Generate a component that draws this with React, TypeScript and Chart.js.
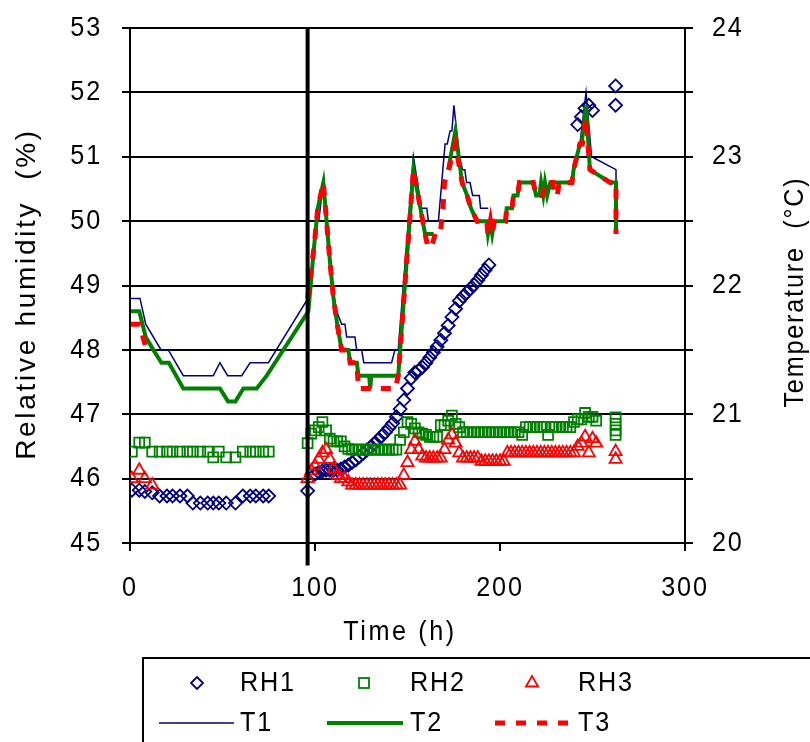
import React, { useEffect, useRef } from 'react';
import { Chart, registerables } from 'chart.js';

Chart.register(...registerables);

const FONT = "'Liberation Sans', Arial, sans-serif";
const FONT_SIZE = 28;
const TEXT_SCALE_X = 0.9;
const SPACING = '2px';
const NAVY = '#000080';
const GREEN = '#008000';
const RED = '#ff0000';

// Humidity readings, first run (h, %)
const hoursA = [1, 5, 8, 12, 16, 20, 23, 27, 31, 34, 38, 42, 45, 48, 52, 57, 61, 65, 68, 72, 75];
const rh1A = [45.82, 45.82, 45.8, 45.78, 45.73, 45.73, 45.73, 45.73, 45.73, 45.62, 45.62, 45.62, 45.62, 45.62, 45.62, 45.62, 45.73, 45.73, 45.73, 45.73, 45.73];
const rh2A = [46.42, 46.56, 46.56, 46.42, 46.42, 46.42, 46.42, 46.42, 46.42, 46.42, 46.42, 46.42, 46.33, 46.42, 46.33, 46.33, 46.42, 46.42, 46.42, 46.42, 46.42];
const rh3A = [46.0, 46.13, 46.0, 45.9, null, null, null, null, null, null, null, null, null, null, null, null, null, null, null, null, null];

// Humidity readings, second run (h, %)
const hoursB = [
  96, 98, 100, 102, 104, 106, 108, 110, 112, 114, 116, 118, 120, 122, 124, 126, 128, 130, 132, 134,
  136, 138, 140, 142, 144, 146, 148, 150, 152, 154, 156, 158, 160, 162, 164, 166, 168, 170, 172, 174,
  176, 178, 180, 182, 184, 186, 188, 190, 192, 194, 196, 198, 200, 202, 204, 206, 208, 210, 212, 214,
  216, 218, 220, 222, 224, 226, 228, 230, 232, 234, 236, 238, 240, 242, 244, 246, 248, 250, 252,
];
const rh1B = [
  45.81, null, 46.07, 46.1, 46.12, 46.13, 46.13, 46.13, 46.13, 46.15, 46.18, 46.21, 46.25, 46.29, 46.34, 46.39, 46.44, 46.49, 46.54, 46.6,
  46.66, 46.72, 46.79, 46.86, 46.96, 47.08, 47.22, 47.4, 47.56, 47.65, 47.68, 47.73, 47.8, 47.88, 47.96, 48.05, 48.15, 48.26, 48.38, 48.51,
  48.64, 48.76, 48.83, 48.89, 48.95, 49.01, 49.08, 49.16, 49.24, 49.32, null, null, null, null, null, null, null, null, null, null,
  null, null, null, null, null, null, null, null, null, null, null, null, null, 51.5, 51.62, 51.75, 51.8, 51.72, null,
];
const rh2B = [
  46.55, 46.7, 46.75, 46.8, 46.88, 46.75, 46.62, 46.58, 46.58, 46.58, 46.5, 46.46, 46.45, 46.45, 46.45, 46.45, 46.45, 46.45, 46.45, 46.45,
  46.45, 46.45, 46.45, 46.45, 46.45, 46.6, 46.72, 46.88, 46.85, 46.78, 46.72, 46.7, 46.68, 46.65, 46.65, 46.65, 46.83, 46.83, 46.9, 46.98,
  46.85, 46.8, 46.72, 46.72, 46.72, 46.72, 46.72, 46.72, 46.72, 46.72, 46.72, 46.72, 46.72, 46.72, 46.72, 46.72, 46.72, 46.72, 46.68, 46.8,
  46.8, 46.8, 46.8, 46.8, 46.8, 46.68, 46.8, 46.8, 46.8, 46.8, 46.8, 46.8, 46.88, 46.92, 46.92, 47.02, 46.96, 46.96, 46.9,
];
const rh3B = [
  46.0, 46.12, 46.2, 46.3, 46.4, 46.45, 46.3, 46.15, 46.05, 46.0, 46.0, 45.95, 45.9, 45.9, 45.9, 45.9, 45.9, 45.9, 45.9, 45.9,
  45.9, 45.9, 45.9, 45.9, 45.9, 45.9, 46.05, 46.25, 46.45, 46.58, 46.45, 46.35, 46.32, 46.32, 46.32, 46.32, 46.32, 46.45, 46.6, 46.68,
  46.55, 46.4, 46.32, 46.32, 46.32, 46.32, 46.32, 46.27, 46.27, 46.27, 46.27, 46.27, 46.27, 46.27, 46.4, 46.4, 46.4, 46.4, 46.4, 46.4,
  46.4, 46.4, 46.4, 46.4, 46.4, 46.4, 46.4, 46.4, 46.4, 46.4, 46.4, 46.4, 46.4, 46.5, 46.55, 46.65, 46.4, 46.62, 46.55,
];

// Final humidity readings (h, %)
const hoursC = [262.5, 262.5, 262.5, 262.5];
const rh1C = [52.1, 51.8, null, null];
const rh2C = [46.95, 46.85, 46.75, 46.68];
const rh3C = [46.42, 46.3, null, null];

// Temperature records (h, °C); null marks missing data
const t1Hours = [
  0.5, 5.4, 8.5, 16.8, 20.7, 28.8, 45, 48.6, 52.8, 60.4, 64.9, 74.8, 96.2, 99, 100.9, 102, 104.5, 107.5, 110.4, 111.7,
  114.4, 116.2, 117.1, 121.6, 122.5, 125.2, 126.4, 141.4, 143.2, 145, 153.2, 157.6, 160.4, 161.3, 166.7, 170.3, 171.5, 173, 174, 175.1,
  178, 179.8, 181, 181.9, 183.8, 185.2, 188.8, 189.5, 193.7, 216, 238.7, 240, 243.2, 246.5, 249.5, 262.7, 262.8,
];
const t1Values = [
  21.9, 21.9, 21.7, 21.5, 21.5, 21.3, 21.3, 21.4, 21.3, 21.3, 21.4, 21.4, 21.9, 22.2, 22.5, 22.5, 22.8, 22.3, 21.9, 21.8,
  21.7, 21.7, 21.6, 21.6, 21.5, 21.5, 21.4, 21.4, 21.5, 21.5, 23.0, 22.6, 22.6, 22.5, 22.5, 23.1, 23.1, 23.2, 23.2, 23.4,
  23.0, 22.9, 22.9, 22.8, 22.8, 22.7, 22.7, 22.6, 22.6, null, 22.8, 22.95, 23.1, 23.5, 23.0, 22.9, 22.4,
];

const t2Hours = [
  0.5, 5, 8.5, 12.6, 17, 21, 28.8, 48.6, 53, 57, 61.3, 68.5, 73.9, 96.4, 99.5, 101.5, 104.5, 108, 110, 112,
  114.4, 118, 119, 122.6, 123.5, 129.3, 129.8, 130.5, 145, 153.2, 159.5, 164.1, 168, 172, 175.9, 179.5, 182.2, 184.3, 187.6, 192.8,
  193.5, 194.8, 195.8, 197, 203, 203.6, 206.5, 207.3, 209.5, 210.5, 218, 219.5, 221.3, 222.2, 223.4, 224.3, 225.5, 227.2, 238.9, 239.8,
  243.2, 244.1, 246.5, 248.6, 259.5, 262.7, 262.7,
];
const t2Values = [
  21.8, 21.8, 21.6, 21.5, 21.4, 21.4, 21.2, 21.2, 21.1, 21.1, 21.2, 21.2, 21.3, 21.8, 22.3, 22.6, 22.8, 22.2, 21.9, 21.7,
  21.5, 21.5, 21.4, 21.4, 21.3, 21.3, 21.2, 21.3, 21.3, 22.9, 22.4, 22.4, null, 22.9, 23.2, 22.8, 22.7, 22.6, 22.5, 22.5,
  22.4, 22.5, 22.4, 22.5, 22.5, 22.6, 22.6, 22.7, 22.7, 22.8, 22.8, 22.7, 22.7, 22.8, 22.7, 22.8, 22.7, 22.8, 22.8, 22.9,
  23.1, 23.1, 23.4, 22.9, 22.8, 22.8, 22.4,
];

const t3Hours = [
  0.5, 5, 9, 50, 96, 99.5, 101.5, 104.5, 108, 110, 112, 114.4, 118, 119, 122.6, 123.5, 143.5, 145, 153.2, 159.5,
  161, 163, 165, 167.7, 169.2, 170, 172.3, 175.9, 179.5, 182.2, 184.3, 187.6, 192.8, 193.5, 194.8, 195.8, 197, 203, 203.6, 206.5,
  207.3, 209.5, 210.5, 218, 219.5, 223, 224.5, 228.5, 229.5, 231, 232, 238.9, 239.8, 243.2, 244.5, 246.5, 248.6, 259.5, 262.7, 262.7,
];
const t3Values = [
  21.7, 21.7, 21.5, null, 21.9, 22.3, 22.6, 22.8, 22.2, 21.9, 21.7, 21.5, 21.5, 21.4, 21.4, 21.2, 21.2, 21.3, 22.9, 22.4,
  22.3, 22.3, 22.4, 22.4, 22.6, 22.8, 22.9, 23.1, 22.8, 22.7, 22.6, 22.5, 22.5, 22.4, 22.5, 22.4, 22.5, 22.5, 22.6, 22.6,
  22.7, 22.7, 22.8, 22.8, 22.7, 22.7, 22.8, 22.8, 22.7, 22.7, 22.8, 22.8, 22.9, 23.1, 23.1, 23.3, 22.9, 22.8, 22.8, 22.4,
];

// Time of the change in conditions (h)
const markerHour = 96;

const pts = (xs: number[], ys: (number | null)[]) => xs.map((x, i) => ({ x, y: ys[i] }));

// Narrow, spaced lettering: every string is drawn squeezed horizontally about its anchor.
const styleText = (ctx: any) => {
  ctx.letterSpacing = SPACING;
  if (ctx.__narrow) return;
  const base = ctx.fillText.bind(ctx);
  ctx.__scaleX = TEXT_SCALE_X;
  ctx.fillText = (text: string, x: number, y: number, maxWidth?: number) => {
    const sx = ctx.__scaleX;
    ctx.save();
    ctx.translate(x, y);
    ctx.scale(sx, 1);
    if (maxWidth === undefined) base(text, 0, 0);
    else base(text, 0, 0, maxWidth / sx);
    ctx.restore();
  };
  ctx.__narrow = true;
};

const textPlugin = {
  id: 'narrowText',
  beforeLayout(chart: any) { styleText(chart.ctx); },
  beforeDraw(chart: any) { styleText(chart.ctx); },
};

const drawTitle = (
  ctx: any, text: string, x: number, y: number, rotate: boolean, spacing: string, scaleX: number,
) => {
  ctx.save();
  ctx.letterSpacing = spacing;
  ctx.__scaleX = scaleX;
  ctx.translate(x, y);
  if (rotate) ctx.rotate(-Math.PI / 2);
  ctx.textAlign = 'center';
  ctx.textBaseline = 'middle';
  ctx.fillText(text, 0, 0);
  ctx.__scaleX = TEXT_SCALE_X;
  ctx.restore();
};

const decorPlugin = {
  id: 'decor',
  afterDraw(chart: any) {
    const ctx = chart.ctx as any;
    ctx.save();
    styleText(ctx);
    ctx.fillStyle = '#000';
    ctx.font = `${FONT_SIZE}px ${FONT}`;

    // axis titles
    drawTitle(ctx, 'Relative humidity  (%)', 27, 294, true, '2.7px', 1.0);
    drawTitle(ctx, 'Temperature  (°C)', 795, 292, true, '2px', TEXT_SCALE_X);
    drawTitle(ctx, 'Time (h)', 400, 632, false, '2.9px', TEXT_SCALE_X);

    ctx.letterSpacing = SPACING;
    ctx.textBaseline = 'middle';

    // legend box
    ctx.strokeStyle = '#000';
    ctx.lineWidth = 2;
    ctx.strokeRect(143, 658, 700, 120);

    const row1 = 683;
    const row2 = 723;
    ctx.textAlign = 'left';
    ctx.lineWidth = 1.8;

    // diamond
    ctx.strokeStyle = NAVY;
    ctx.beginPath();
    ctx.moveTo(197 - 6, row1);
    ctx.lineTo(197, row1 - 6);
    ctx.lineTo(197 + 6, row1);
    ctx.lineTo(197, row1 + 6);
    ctx.closePath();
    ctx.stroke();
    // square
    ctx.strokeStyle = GREEN;
    ctx.strokeRect(364 - 5, row1 - 5, 10, 10);
    // triangle
    ctx.strokeStyle = RED;
    ctx.beginPath();
    const r = 7;
    ctx.moveTo(532, row1 - r);
    ctx.lineTo(532 + r * 0.866, row1 + r / 2);
    ctx.lineTo(532 - r * 0.866, row1 + r / 2);
    ctx.closePath();
    ctx.stroke();

    ctx.fillText('RH1', 240, row1);
    ctx.fillText('RH2', 410, row1);
    ctx.fillText('RH3', 578, row1);

    // line samples
    ctx.strokeStyle = NAVY;
    ctx.lineWidth = 1.5;
    ctx.beginPath();
    ctx.moveTo(159, row2);
    ctx.lineTo(234, row2);
    ctx.stroke();
    ctx.strokeStyle = GREEN;
    ctx.lineWidth = 4;
    ctx.beginPath();
    ctx.moveTo(327, row2);
    ctx.lineTo(403, row2);
    ctx.stroke();
    ctx.strokeStyle = RED;
    ctx.lineWidth = 5;
    ctx.setLineDash([10, 11]);
    ctx.beginPath();
    ctx.moveTo(495, row2);
    ctx.lineTo(572, row2);
    ctx.stroke();
    ctx.setLineDash([]);

    ctx.fillText('T1', 240, row2);
    ctx.fillText('T2', 410, row2);
    ctx.fillText('T3', 578, row2);
    ctx.restore();
  },
};

export default function App() {
  const ref = useRef<HTMLCanvasElement>(null);

  useEffect(() => {
    const canvas = ref.current;
    if (!canvas) return;
    Chart.defaults.font.family = FONT;
    Chart.defaults.font.size = FONT_SIZE;
    Chart.defaults.color = '#000';

    const markerStyle = (color: string, style: string, radius: number) => ({
      showLine: false,
      pointStyle: style,
      pointRadius: radius,
      pointHoverRadius: radius,
      pointBorderWidth: 1.8,
      pointBorderColor: color,
      pointBackgroundColor: 'rgba(0,0,0,0)',
      borderColor: color,
      backgroundColor: 'rgba(0,0,0,0)',
      yAxisID: 'y',
    });

    const lineStyle = (color: string, width: number, dash: number[]) => ({
      showLine: true,
      borderColor: color,
      backgroundColor: color,
      borderWidth: width,
      borderDash: dash,
      borderCapStyle: 'butt',
      borderJoinStyle: 'miter',
      pointRadius: 0,
      pointHoverRadius: 0,
      spanGaps: false,
      tension: 0,
      yAxisID: 'y2',
    });

    const tickFont = { size: FONT_SIZE };

    const chart = new Chart(canvas, {
      type: 'scatter',
      data: {
        datasets: [
          {
            label: 'break',
            data: [{ x: markerHour, y: 44.65 }, { x: markerHour, y: 53 }],
            showLine: true,
            borderColor: '#000',
            borderWidth: 4,
            pointRadius: 0,
            clip: false,
            yAxisID: 'y',
            order: -1,
          },
          { label: 'T3', data: pts(t3Hours, t3Values), ...lineStyle(RED, 5, [10, 10]), order: 0 },
          { label: 'T2', data: pts(t2Hours, t2Values), ...lineStyle(GREEN, 4, []), order: 1 },
          { label: 'T1', data: pts(t1Hours, t1Values), ...lineStyle(NAVY, 1.5, []), order: 2 },
          {
            label: 'RH3',
            data: [...pts(hoursA, rh3A), ...pts(hoursB, rh3B), ...pts(hoursC, rh3C)],
            ...markerStyle(RED, 'triangle', 7),
            order: 3,
          },
          {
            label: 'RH2',
            data: [...pts(hoursA, rh2A), ...pts(hoursB, rh2B), ...pts(hoursC, rh2C)],
            ...markerStyle(GREEN, 'rect', 7),
            order: 4,
          },
          {
            label: 'RH1',
            data: [...pts(hoursA, rh1A), ...pts(hoursB, rh1B), ...pts(hoursC, rh1C)],
            ...markerStyle(NAVY, 'rectRot', 6.5),
            order: 5,
          },
        ] as any,
      },
      options: {
        responsive: false,
        devicePixelRatio: 1,
        animation: false,
        events: [],
        layout: { padding: { top: 28, left: 0, right: 0, bottom: 0 } },
        plugins: { legend: { display: false }, tooltip: { enabled: false } },
        scales: {
          x: {
            type: 'linear',
            position: 'bottom',
            min: 0,
            max: 300,
            ticks: { stepSize: 100, padding: 20, font: tickFont, color: '#000', maxRotation: 0, autoSkip: false },
            grid: { drawOnChartArea: false, drawTicks: true, tickLength: 8, color: '#000', lineWidth: 2 },
            border: { color: '#000', width: 2 },
            afterFit: (s: any) => { s.height = 199; },
          },
          y: {
            type: 'linear',
            position: 'left',
            min: 45,
            max: 53,
            ticks: { stepSize: 1, padding: 20, font: tickFont, color: '#000', autoSkip: false },
            grid: { color: '#000', lineWidth: 2, tickLength: 8 },
            border: { color: '#000', width: 2 },
            afterFit: (s: any) => { s.width = 130; s.paddingTop = 0; s.paddingBottom = 0; },
          },
          y2: {
            type: 'linear',
            position: 'right',
            min: 20,
            max: 24,
            ticks: {
              stepSize: 0.5,
              padding: 19,
              font: tickFont,
              color: '#000',
              autoSkip: false,
              callback: (v: any) => (Number.isInteger(v) ? String(v) : ''),
            },
            grid: { drawOnChartArea: false, color: '#000', lineWidth: 2, tickLength: 8 },
            border: { color: '#000', width: 2 },
            afterFit: (s: any) => { s.width = 125; s.paddingTop = 0; s.paddingBottom = 0; },
          },
        },
      } as any,
      plugins: [textPlugin, decorPlugin],
    });
    return () => chart.destroy();
  }, []);

  return (
    <div style={{ position: 'absolute', left: 0, top: 0, width: 810, height: 742, background: '#fff' }}>
      <canvas ref={ref} width={810} height={742} style={{ display: 'block', width: 810, height: 742 }} />
    </div>
  );
}
